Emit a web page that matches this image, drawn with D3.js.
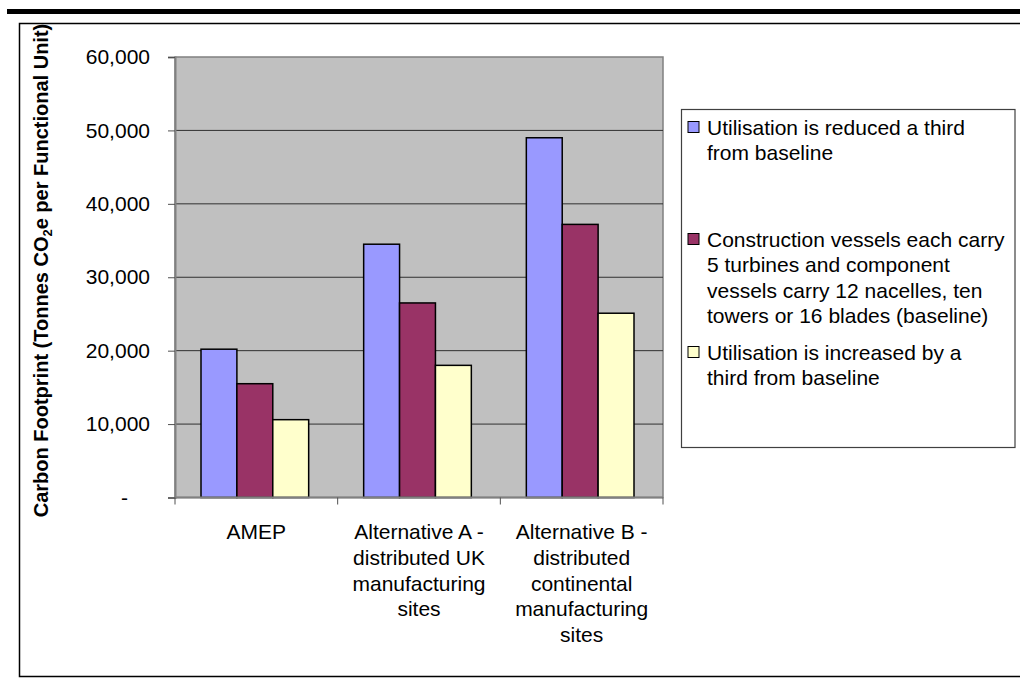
<!DOCTYPE html>
<html>
<head>
<meta charset="utf-8">
<script src="https://cdn.jsdelivr.net/npm/d3@7"></script>
<style>
  body { margin: 0; background: #fff; }
  svg { display: block; font-family: Arial, "Liberation Sans", sans-serif; }
</style>
</head>
<body>
<div id="chart"></div>
<script>
// categories (each label split into its lines)
const categories = ['AMEP', 'Alternative A', 'Alternative B'];
const categoryLines = [
  ['AMEP'],
  ['Alternative A -', 'distributed UK', 'manufacturing', 'sites'],
  ['Alternative B -', 'distributed', 'continental', 'manufacturing', 'sites']
];

// series
const seriesNames = ['reduced', 'baseline', 'increased'];
const seriesLabels = [
  ['Utilisation is reduced a third', 'from baseline'],
  ['Construction vessels each carry', '5 turbines and component', 'vessels carry 12 nacelles, ten', 'towers or 16 blades (baseline)'],
  ['Utilisation is increased by a', 'third from baseline']
];
const seriesColors = ['#9999ff', '#993366', '#ffffcc'];

// values, one per category
const reducedValues = [20200, 34500, 49000];
const baselineValues = [15500, 26500, 37200];
const increasedValues = [10600, 18000, 25100];

const yTicks = [0, 10000, 20000, 30000, 40000, 50000, 60000];

const seriesValues = [reducedValues, baselineValues, increasedValues];

const width = 1020, height = 686;
const plot = { left: 175, right: 663, top: 57, bottom: 497.5 };
const fontSize = '21px';

const svg = d3.select('#chart').append('svg')
  .attr('width', width)
  .attr('height', height);

// top rule and outer frame
svg.append('rect').attr('x', 7).attr('y', 9).attr('width', 1013).attr('height', 5).attr('fill', '#000');
svg.append('path')
  .attr('d', `M1030,23.5 H19.5 V676.5 H1030`)
  .attr('fill', 'none').attr('stroke', '#000').attr('stroke-width', 1.5);

const x0 = d3.scaleBand().domain(categories).range([plot.left, plot.right]);
const x1 = d3.scaleBand().domain(seriesNames).range([26, x0.bandwidth() - 29]);
const y = d3.scaleLinear().domain([0, 60000]).range([plot.bottom, plot.top]);

// plot area
svg.append('rect')
  .attr('x', plot.left).attr('y', plot.top)
  .attr('width', plot.right - plot.left).attr('height', plot.bottom - plot.top)
  .attr('fill', '#c0c0c0').attr('stroke', '#808080').attr('stroke-width', 1.5);

// gridlines
svg.append('g').selectAll('line')
  .data(yTicks.filter(d => d > 0 && d < 60000))
  .enter().append('line')
  .attr('x1', plot.left).attr('x2', plot.right)
  .attr('y1', d => y(d)).attr('y2', d => y(d))
  .attr('stroke', '#303030').attr('stroke-width', 1);

// bars
const groups = svg.append('g').selectAll('g')
  .data(categories)
  .enter().append('g')
  .attr('transform', d => `translate(${x0(d)},0)`);

groups.selectAll('rect')
  .data((d, i) => seriesNames.map((s, j) => ({ s, j, v: seriesValues[j][i] })))
  .enter().append('rect')
  .attr('x', d => x1(d.s))
  .attr('y', d => y(d.v))
  .attr('width', x1.bandwidth())
  .attr('height', d => y(0) - y(d.v))
  .attr('fill', d => seriesColors[d.j])
  .attr('stroke', '#000').attr('stroke-width', 1.5);

// y axis
const yAxis = svg.append('g')
  .attr('transform', `translate(${plot.left},0)`)
  .call(d3.axisLeft(y).tickValues(yTicks).tickSize(7).tickPadding(18)
    .tickFormat(d => d === 0 ? '-' : d3.format(',')(d)));
yAxis.select('.domain').attr('stroke', '#808080').attr('stroke-width', 2);
yAxis.selectAll('.tick line').attr('stroke', '#505050');
yAxis.selectAll('.tick text')
  .attr('font-size', fontSize).attr('fill', '#000')
  .attr('dx', d => d === 0 ? -22 : 0);

// x axis
const xAxis = svg.append('g')
  .attr('transform', `translate(0,${plot.bottom})`);
xAxis.append('line')
  .attr('x1', plot.left).attr('x2', plot.right)
  .attr('stroke', '#808080').attr('stroke-width', 2);
xAxis.selectAll('.xtick')
  .data(categories.map(c => x0(c)).concat([plot.right]))
  .enter().append('line')
  .attr('x1', d => d).attr('x2', d => d)
  .attr('y1', 0).attr('y2', 7)
  .attr('stroke', '#505050');

const xLabels = svg.append('g').selectAll('text')
  .data(categories)
  .enter().append('text')
  .attr('x', d => x0(d) + x0.bandwidth() / 2)
  .attr('y', 539)
  .attr('text-anchor', 'middle')
  .attr('font-size', fontSize);
xLabels.selectAll('tspan')
  .data((d, i) => categoryLines[i])
  .enter().append('tspan')
  .attr('x', function () { return this.parentNode.getAttribute('x'); })
  .attr('dy', (d, i) => i === 0 ? 0 : 25.8)
  .text(d => d);

// y axis title
const title = svg.append('text')
  .attr('transform', 'translate(48,270.5) rotate(-90)')
  .attr('text-anchor', 'middle')
  .attr('font-size', '20px')
  .attr('font-weight', 'bold');
title.append('tspan').text('Carbon Footprint (Tonnes CO');
title.append('tspan').attr('font-size', '13px').attr('dy', 4).text('2');
title.append('tspan').attr('dy', -4).text('e per Functional Unit)');

// legend
svg.append('rect')
  .attr('x', 681.5).attr('y', 109.5)
  .attr('width', 333.5).attr('height', 338)
  .attr('fill', '#fff').attr('stroke', '#404040').attr('stroke-width', 1.2);

const legendRowY = [127, 239, 352];
const legend = svg.append('g').selectAll('g')
  .data(seriesNames)
  .enter().append('g')
  .attr('transform', (d, i) => `translate(0,${legendRowY[i]})`);

legend.append('rect')
  .attr('x', 688).attr('y', -5.5)
  .attr('width', 11).attr('height', 11)
  .attr('fill', (d, i) => seriesColors[i])
  .attr('stroke', '#000').attr('stroke-width', 1);

legend.append('text')
  .attr('x', 707).attr('y', 7.5)
  .attr('font-size', fontSize)
  .selectAll('tspan')
  .data((d, i) => seriesLabels[i])
  .enter().append('tspan')
  .attr('x', 707)
  .attr('dy', (d, i) => i === 0 ? 0 : 25.5)
  .text(d => d);
</script>
</body>
</html>
